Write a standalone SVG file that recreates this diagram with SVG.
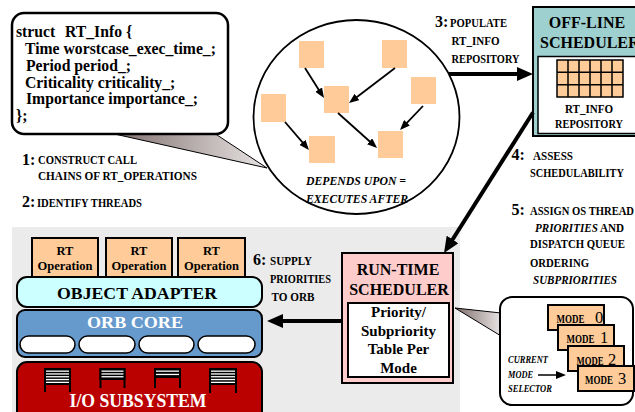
<svg xmlns="http://www.w3.org/2000/svg" width="635" height="412" viewBox="0 0 635 412">
<defs>
<style>
text{font-family:"Liberation Serif","Times New Roman",serif;font-weight:bold;fill:#000}
.code{font-size:15.7px}
.num{font-size:16px}
.lbl{font-size:12.5px}
.it{font-style:italic}
.title{font-size:16px}
.mid{text-anchor:middle}
.wh{fill:#fff}
.peach{fill:#FFCC99;stroke:#000;stroke-width:2}
.thick{stroke:#000;stroke-width:4;fill:none}
.thin{stroke:#000;stroke-width:1.8;fill:none}
.digit{font-size:16.5px;font-weight:normal}
</style>
<linearGradient id="tail" x1="0" y1="0" x2="1" y2="0">
<stop offset="0" stop-color="#7f6e6c"/><stop offset="1" stop-color="#e8e4e4"/>
</linearGradient>
<marker id="big" markerUnits="userSpaceOnUse" viewBox="0 0 16 14" refX="3" refY="7" markerWidth="16" markerHeight="14" orient="auto"><path d="M0,0L16,7L0,14z" fill="#000"/></marker>
<marker id="small" markerUnits="userSpaceOnUse" viewBox="0 0 10 8" refX="7" refY="4" markerWidth="10" markerHeight="8" orient="auto"><path d="M0,0L10,4L0,8z" fill="#000"/></marker>
</defs>
<rect x="0" y="0" width="635" height="412" fill="#fff"/>
<rect x="12" y="227" width="448" height="185" fill="#EBEBEB"/>

<g id="rtinfo">
<polygon points="110,133 214,133 267,168" fill="url(#tail)" stroke="#000" stroke-width="1"/>
<rect x="12" y="13" width="216" height="121" rx="12" fill="#fff" stroke="#000" stroke-width="2.5"/>
<text class="code" x="16" y="37">struct<tspan x="65">RT_Info {</tspan></text>
<text class="code" x="25" y="53.5">Time worstcase_exec_time_;</text>
<text class="code" x="26" y="70.5">Period period_;</text>
<text class="code" x="25" y="87.5">Criticality criticality_;</text>
<text class="code" x="26" y="104">Importance importance_;</text>
<text class="code" x="16" y="121">};</text>
</g>

<g id="callgraph">
<ellipse cx="356.5" cy="117" rx="103" ry="97" fill="#fff" stroke="#000" stroke-width="1.8"/>
<rect x="299" y="41" width="25" height="27" fill="#FFCC99"/>
<rect x="382" y="40" width="25" height="28" fill="#FFCC99"/>
<rect x="324" y="86" width="25" height="27" fill="#FFCC99"/>
<rect x="411" y="77" width="25" height="27" fill="#FFCC99"/>
<rect x="261" y="94" width="25" height="28" fill="#FFCC99"/>
<rect x="309" y="136" width="26" height="27" fill="#FFCC99"/>
<rect x="378" y="131" width="25" height="27" fill="#FFCC99"/>
<g class="thin" marker-end="url(#small)">
<line x1="305" y1="68" x2="322.4" y2="95.5" marker-end="url(#small)"/>
<line x1="395" y1="68" x2="351.4" y2="101.2" marker-end="url(#small)"/>
<line x1="423" y1="106" x2="402.1" y2="127.8" marker-end="url(#small)"/>
<line x1="285" y1="122" x2="307" y2="147.7" marker-end="url(#small)"/>
<line x1="338" y1="113" x2="374.8" y2="146" marker-end="url(#small)"/>
</g>
<text class="it mid" x="356" y="185" font-size="13" textLength="100" lengthAdjust="spacingAndGlyphs">DEPENDS UPON =</text>
<text class="it mid" x="357" y="202.5" font-size="13" textLength="102" lengthAdjust="spacingAndGlyphs">EXECUTES AFTER</text>
</g>

<g id="offline">
<rect x="533" y="7" width="110" height="129" fill="#9FD0D0" stroke="#000" stroke-width="2"/>
<text class="title mid" x="587" y="28">OFF-LINE</text>
<text class="title" x="540" y="48">SCHEDULER</text>
<rect x="538" y="56.5" width="105" height="77" fill="#fff" stroke="#000" stroke-width="1.5"/>
<rect x="557" y="60" width="66" height="37" fill="#FFCC99" stroke="#000" stroke-width="1.5"/>
<path d="M568,60V97M579,60V97M590,60V97M601,60V97M612,60V97M557,72.3H623M557,84.7H623" stroke="#000" stroke-width="1.5"/>
<text class="lbl mid" x="589" y="113" textLength="48" lengthAdjust="spacingAndGlyphs">RT_INFO</text>
<text class="lbl mid" x="589" y="128" textLength="68" lengthAdjust="spacingAndGlyphs">REPOSITORY</text>
</g>

<g id="orb">
<rect x="32" y="238" width="66" height="46" fill="#FFCC99" stroke="#000" stroke-width="2"/>
<rect x="106" y="238" width="66" height="46" fill="#FFCC99" stroke="#000" stroke-width="2"/>
<rect x="178" y="238" width="67" height="46" fill="#FFCC99" stroke="#000" stroke-width="2"/>
<text class="lbl mid" x="65" y="255">RT</text>
<text class="lbl mid" x="65" y="270">Operation</text>
<text class="lbl mid" x="139" y="255">RT</text>
<text class="lbl mid" x="139" y="270">Operation</text>
<text class="lbl mid" x="211.5" y="255">RT</text>
<text class="lbl mid" x="211.5" y="270">Operation</text>
<rect x="17" y="277" width="245" height="30" rx="10" fill="#CCFFFF" stroke="#000" stroke-width="2"/>
<text class="mid" x="137" y="299" font-size="17" textLength="160" lengthAdjust="spacingAndGlyphs">OBJECT  ADAPTER</text>
<rect x="17" y="310" width="245" height="47" rx="8" fill="#6699CC" stroke="#000" stroke-width="2"/>
<text class="mid wh" x="135" y="328" font-size="17" textLength="96" lengthAdjust="spacingAndGlyphs">ORB CORE</text>
<g fill="#fff" stroke="#000" stroke-width="1.5">
<rect x="20" y="336" width="55" height="17" rx="8.5"/>
<rect x="79" y="336" width="56" height="17" rx="8.5"/>
<rect x="139" y="336" width="55" height="17" rx="8.5"/>
<rect x="198" y="336" width="57" height="17" rx="8.5"/>
</g>
<rect x="17" y="362" width="245" height="60" rx="10" fill="#BB0000" stroke="#000" stroke-width="2"/>
<g fill="#000">
<rect x="44" y="368" width="27" height="17"/><rect x="44" y="368" width="2" height="24"/><rect x="69" y="368" width="2" height="24"/>
<rect x="99.5" y="368" width="26" height="12"/><rect x="99.5" y="368" width="2" height="20"/><rect x="123.5" y="368" width="2" height="20"/>
<rect x="154" y="368" width="27" height="10"/><rect x="154" y="368" width="2" height="20"/><rect x="179" y="368" width="2" height="20"/>
<rect x="209" y="368" width="28" height="17"/><rect x="209" y="368" width="2" height="25"/><rect x="235" y="368" width="2" height="25"/>
</g>
<g fill="#fff">
<rect x="46" y="370.5" width="23" height="1.3"/><rect x="46" y="373.3" width="23" height="1.3"/><rect x="46" y="376.1" width="23" height="1.3"/><rect x="46" y="378.9" width="23" height="1.3"/><rect x="46" y="381.7" width="23" height="1.3"/>
<rect x="101.5" y="370.5" width="22" height="1.3"/><rect x="101.5" y="373.3" width="22" height="1.3"/><rect x="101.5" y="376.1" width="22" height="1.3"/>
<rect x="156" y="370.5" width="23" height="1.3"/><rect x="156" y="373.8" width="23" height="1.3"/>
<rect x="211" y="370.5" width="24" height="1.3"/><rect x="211" y="373.3" width="24" height="1.3"/><rect x="211" y="376.1" width="24" height="1.3"/><rect x="211" y="378.9" width="24" height="1.3"/><rect x="211" y="381.7" width="24" height="1.3"/>
</g>
<text class="mid wh" x="138" y="407" font-size="18" textLength="137" lengthAdjust="spacingAndGlyphs">I/O SUBSYSTEM</text>
</g>

<g id="runtime">
<rect x="342" y="253" width="111" height="130" fill="#FFCCCC" stroke="#000" stroke-width="2"/>
<text class="title mid" x="398" y="275">RUN-TIME</text>
<text class="title mid" x="399" y="295">SCHEDULER</text>
<rect x="348" y="303" width="101" height="74" fill="#fff" stroke="#000" stroke-width="2"/>
<text class="mid" x="398.5" y="317" font-size="15">Priority/</text>
<text class="mid" x="398.5" y="335.5" font-size="15">Subpriority</text>
<text class="mid" x="398.5" y="354" font-size="15">Table Per</text>
<text class="mid" x="398.5" y="372.5" font-size="15">Mode</text>
</g>

<g id="modes">
<polygon points="455,308 501,313 501,336" fill="url(#tail)" stroke="#000" stroke-width="1"/>
<rect x="500" y="297" width="133" height="108" rx="12" fill="#fff" stroke="#000" stroke-width="2"/>
<rect class="peach" x="548" y="305" width="56" height="25"/>
<text class="lbl" x="556.5" y="323.3" textLength="28" lengthAdjust="spacingAndGlyphs">MODE</text>
<text class="digit" x="595" y="323.3">0</text>
<rect class="peach" x="558" y="325" width="56" height="25"/>
<text class="lbl" x="566.5" y="343.3" textLength="28" lengthAdjust="spacingAndGlyphs">MODE</text>
<text class="digit" x="600" y="343.3">1</text>
<rect class="peach" x="568" y="346" width="56" height="25"/>
<text class="lbl" x="576.5" y="364.5" textLength="27" lengthAdjust="spacingAndGlyphs">MODE</text>
<text class="digit" x="608" y="364.5">2</text>
<rect class="peach" x="578" y="366" width="56" height="25"/>
<text class="lbl" x="585" y="383.5" textLength="28" lengthAdjust="spacingAndGlyphs">MODE</text>
<text class="digit" x="618" y="383.5">3</text>
<text class="it" x="508" y="363" font-size="9.5" textLength="40" lengthAdjust="spacingAndGlyphs">CURRENT</text>
<text class="it" x="508" y="377.5" font-size="9.5" textLength="25" lengthAdjust="spacingAndGlyphs">MODE</text>
<text class="it" x="508" y="391.5" font-size="9.5" textLength="44" lengthAdjust="spacingAndGlyphs">SELECTOR</text>
</g>

<g id="labels">
<text class="num" x="22" y="164.5">1:</text>
<text class="lbl" x="38" y="164" textLength="99" lengthAdjust="spacingAndGlyphs">CONSTRUCT CALL</text>
<text class="lbl" x="38" y="180" textLength="159" lengthAdjust="spacingAndGlyphs">CHAINS OF RT_OPERATIONS</text>
<text class="num" x="22" y="206.5">2:</text>
<text class="lbl" x="37" y="206.5" textLength="105" lengthAdjust="spacingAndGlyphs">IDENTIFY THREADS</text>
<text class="num" x="435" y="27">3:</text>
<text class="lbl" x="450" y="27" textLength="57" lengthAdjust="spacingAndGlyphs">POPULATE</text>
<text class="lbl" x="451.5" y="45" textLength="48" lengthAdjust="spacingAndGlyphs">RT_INFO</text>
<text class="lbl" x="451.5" y="62.5" textLength="68" lengthAdjust="spacingAndGlyphs">REPOSITORY</text>
<text class="num" x="511.5" y="160">4:</text>
<text class="lbl" x="533" y="160" textLength="40" lengthAdjust="spacingAndGlyphs">ASSESS</text>
<text class="lbl" x="530" y="176.5" textLength="94" lengthAdjust="spacingAndGlyphs">SCHEDULABILITY</text>
<text class="num" x="511.5" y="215">5:</text>
<text class="lbl" x="530" y="215" textLength="104" lengthAdjust="spacingAndGlyphs">ASSIGN OS THREAD</text>
<text class="lbl" x="535" y="231.5" textLength="89" lengthAdjust="spacingAndGlyphs"><tspan class="it">PRIORITIES</tspan> AND</text>
<text class="lbl" x="530" y="248" textLength="95" lengthAdjust="spacingAndGlyphs">DISPATCH QUEUE</text>
<text class="lbl" x="530" y="266.5" textLength="59" lengthAdjust="spacingAndGlyphs">ORDERING</text>
<text class="lbl it" x="533" y="284" textLength="84" lengthAdjust="spacingAndGlyphs">SUBPRIORITIES</text>
<text class="num" x="253" y="265">6:</text>
<text class="lbl" x="270" y="265" textLength="42" lengthAdjust="spacingAndGlyphs">SUPPLY</text>
<text class="lbl" x="270" y="283" textLength="61" lengthAdjust="spacingAndGlyphs">PRIORITIES</text>
<text class="lbl" x="271.5" y="301" textLength="43" lengthAdjust="spacingAndGlyphs">TO ORB</text>
</g>

<g id="connectors">
<line class="thick" x1="449" y1="74" x2="520" y2="74" marker-end="url(#big)"/>
<line class="thick" x1="533" y1="112.5" x2="451" y2="242" marker-end="url(#big)"/>
<line class="thick" x1="342" y1="321" x2="280" y2="321" marker-end="url(#big)"/>
<line x1="538" y1="375" x2="563" y2="375" stroke="#000" stroke-width="1.5" marker-end="url(#small)"/>
</g>
</svg>
